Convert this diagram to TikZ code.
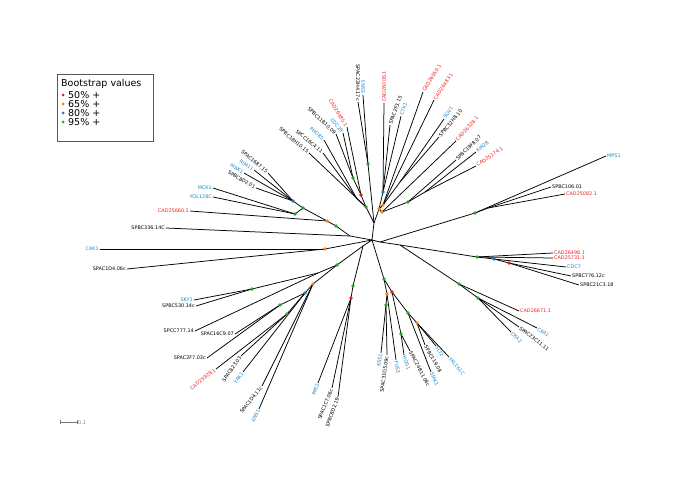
\documentclass[tikz,border=0pt]{standalone}
\usepackage{fontspec}
\setmainfont{DejaVu Sans}
\definecolor{bsred}{RGB}{228,26,28}
\definecolor{bsorange}{RGB}{255,127,14}
\definecolor{bsblue}{RGB}{31,119,180}
\definecolor{bsgreen}{RGB}{44,160,44}
\definecolor{scblue}{RGB}{30,136,204}
\definecolor{cared}{RGB}{238,34,34}

\begin{document}
\begin{tikzpicture}[x=1pt, y=-1pt,
  br/.style={line width=0.75pt},
  tiplab/.style={font=\fontsize{4.9}{5.5}\selectfont, inner sep=1pt},
  lr/.style={tiplab, anchor=west},
  ll/.style={tiplab, anchor=east},
  sc/.style={text=scblue},
  ca/.style={text=cared}]
\useasboundingbox (0,0) rectangle (685,484);

% Inner nodes
\coordinate (c0) at (372,240);
\coordinate (t0) at (374,223);
\coordinate (tl) at (366,207);
\coordinate (np) at (357,199);
\coordinate (r1) at (361,195);
\coordinate (g4) at (353,178);
\coordinate (g6) at (368,164);
\coordinate (o1) at (379,209);
\coordinate (b2) at (383,192);
\coordinate (o2) at (383,205);
\coordinate (n5) at (400,182);
\coordinate (o3) at (382,212);
\coordinate (g5) at (408,202);
\coordinate (n6) at (425,192);
\coordinate (a1) at (350,236);
\coordinate (a2) at (336,226);
\coordinate (a3) at (327,221);
\coordinate (g2) at (303,208);
\coordinate (b1) at (293,201);
\coordinate (g1) at (295,214);
\coordinate (oc) at (325,249);
\coordinate (d0) at (363,246);
\coordinate (gbl) at (337,265);
\coordinate (n1) at (318,273);
\coordinate (gsk) at (252,289);
\coordinate (o4) at (313,284);
\coordinate (bb) at (305,293);
\coordinate (g7) at (280,305);
\coordinate (g8) at (287,314);
\coordinate (gs) at (353,286);
\coordinate (r2) at (351,298);
\coordinate (gk) at (384,279);
\coordinate (o5) at (387,294);
\coordinate (g9) at (386,305);
\coordinate (r3) at (392,292);
\coordinate (g10) at (401,334);
\coordinate (g11) at (408,313);
\coordinate (o6) at (417,323);
\coordinate (e0) at (380,242);
\coordinate (e1) at (400,245);
\coordinate (gm) at (475,213);
\coordinate (n3) at (488,208);
\coordinate (gc) at (477,257);
\coordinate (bc) at (494,259);
\coordinate (rc) at (509,263);
\coordinate (gck) at (459,284);
\coordinate (gck2) at (478,298);

% Inner branches
\draw[br] (c0) -- (t0) -- (g6);
\draw[br] (t0) -- (tl) -- (r1) -- (g4);
\draw[br] (tl) -- (np);
\draw[br] (t0) -- (o1) -- (b2);
\draw[br] (o1) -- (o2) -- (n5);
\draw[br] (o1) -- (o3) -- (g5) -- (n6);
\draw[br] (c0) -- (a1) -- (a2) -- (a3) -- (g2) -- (b1);
\draw[br] (g2) -- (g1);
\draw[br] (c0) -- (oc);
\draw[br] (c0) -- (d0) -- (gbl) -- (n1) -- (gsk);
\draw[br] (gbl) -- (o4) -- (bb) -- (g7);
\draw[br] (bb) -- (g8);
\draw[br] (d0) -- (gs) -- (r2);
\draw[br] (c0) -- (gk) -- (o5) -- (g9);
\draw[br] (gk) -- (r3) -- (g10);
\draw[br] (r3) -- (g11) -- (o6);
\draw[br] (c0) -- (e0) -- (gm) -- (n3);
\draw[br] (e0) -- (e1) -- (gc) -- (bc) -- (rc);
\draw[br] (e1) -- (gck) -- (gck2);

% Top cluster
\node[ll, rotate=-90] (SPAC23H4) at (358,102) {SPAC23H4.17c};
\node[lr, rotate=90, sc] (SSN3) at (363,95) {SSN3};
\node[lr, rotate=90, ca] (CAD26006) at (384,103) {CAD26006.1};
\node[lr, rotate=70] (SPAC2F3) at (390,125) {SPAC2F3.15};
\node[lr, rotate=70, sc] (CTK1) at (401,116) {CTK1};
\node[lr, rotate=58, ca] (CAD26050) at (423,92) {CAD26050.1};
\node[lr, rotate=56, ca] (CAD26483) at (434,100) {CAD26483.1};
\node[lr, rotate=58, sc] (SGV1) at (444,119) {SGV1};
\node[lr, rotate=50] (SPBC32H8) at (439,137) {SPBC32H8.10};
\node[lr, rotate=48, ca] (CAD26328) at (456,141) {CAD26328.1};
\node[lr, rotate=44] (SPBC19F8) at (456,160) {SPBC19F8.07};
\node[lr, rotate=40, sc] (KIN28) at (476,152) {KIN28};
\node[lr, rotate=34, ca] (CAD25174) at (476,166) {CAD25174.1};
\draw[br] (g6) -- (SPAC23H4.east);
\draw[br] (g6) -- (SSN3.west);
\draw[br] (b2) -- (CAD26006.west);
\draw[br] (b2) -- (SPAC2F3.west);
\draw[br] (b2) -- (CTK1.west);
\draw[br] (o2) -- (CAD26050.west);
\draw[br] (o2) -- (CAD26483.west);
\draw[br] (n5) -- (SGV1.west);
\draw[br] (n5) -- (SPBC32H8.west);
\draw[br] (o3) -- (CAD26328.west);
\draw[br] (g5) -- (SPBC19F8.west);
\draw[br] (n6) -- (KIN28.west);
\draw[br] (n6) -- (CAD25174.west);

% Top left cluster
\node[ll, rotate=-40] (SPBC18H10) at (309,153) {SPBC18H10.15};
\node[ll, rotate=-40] (SPCC16C4) at (323,153) {SPCC16C4.11};
\node[ll, rotate=-42, sc] (PHO85) at (324,140) {PHO85};
\node[ll, rotate=-43] (SPBC11B10) at (336,134) {SPBC11B10.09};
\node[ll, rotate=-50, sc] (CDC28) at (343,133) {CDC28};
\node[ll, rotate=-58, ca] (CAD26485) at (347,127) {CAD26485.1};
\draw[br] (tl) -- (SPBC18H10.east);
\draw[br] (np) -- (SPCC16C4.east);
\draw[br] (np) -- (PHO85.east);
\draw[br] (g4) -- (SPBC11B10.east);
\draw[br] (g4) -- (CDC28.east);
\draw[br] (r1) -- (CAD26485.east);

% Left cluster
\node[ll, rotate=-40] (SPAC1687) at (268,173) {SPAC1687.15};
\node[ll, rotate=-32, sc] (RIM11) at (254,170) {RIM11};
\node[ll, rotate=-30, sc] (MRK1) at (244,173) {MRK1};
\node[ll, rotate=-30] (SPBC8D2a) at (256,188) {SPBC8D2.01};
\node[ll, sc] (MCK1) at (213,188) {MCK1};
\node[ll, sc] (YOL128C) at (213,197) {YOL128C};
\node[ll, ca] (CAD25660) at (190,211) {CAD25660.1};
\node[ll] (SPBC336) at (166,228) {SPBC336.14C};
\node[ll, sc] (CAK1) at (100,249) {CAK1};
\node[ll] (SPAC1D4a) at (127,269) {SPAC1D4.06c};
\draw[br] (b1) -- (SPAC1687.east);
\draw[br] (b1) -- (RIM11.east);
\draw[br] (b1) -- (MRK1.east);
\draw[br] (b1) -- (SPBC8D2a.east);
\draw[br] (g1) -- (MCK1.east);
\draw[br] (g1) -- (YOL128C.east);
\draw[br] (a3) -- (CAD25660.east);
\draw[br] (a1) -- (SPBC336.east);
\draw[br] (oc) -- (CAK1.east);
\draw[br] (oc) -- (SPAC1D4a.east);

% Bottom left cluster
\node[ll, sc] (SKY1) at (194,300) {SKY1};
\node[ll] (SPBC530) at (196,306) {SPBC530.14c};
\node[ll] (SPCC777) at (195,331) {SPCC777.14};
\node[ll] (SPAC16C9) at (235,334) {SPAC16C9.07};
\node[ll] (SPAC2F7) at (207,358) {SPAC2F7.03c};
\node[ll, rotate=38, ca] (CAD25928) at (216,369) {CAD25928.1};
\node[ll, rotate=55] (SPAC823) at (241,356) {SPAC823.03};
\node[ll, rotate=55, sc] (YAK1) at (243,372) {YAK1};
\node[ll, rotate=52] (SPAC1D4b) at (262,386) {SPAC1D4.11c};
\node[ll, rotate=65, sc] (KNS1) at (259,409) {KNS1};
\draw[br] (gsk) -- (SKY1.east);
\draw[br] (gsk) -- (SPBC530.east);
\draw[br] (n1) -- (SPCC777.east);
\draw[br] (g7) -- (SPAC16C9.east);
\draw[br] (g7) -- (SPAC2F7.east);
\draw[br] (g8) -- (CAD25928.east);
\draw[br] (g8) -- (SPAC823.east);
\draw[br] (bb) -- (YAK1.east);
\draw[br] (o4) -- (SPAC1D4b.east);
\draw[br] (o4) -- (KNS1.east);

% Bottom clusters
\node[ll, rotate=70, sc] (IME2) at (318,383) {IME2};
\node[ll, rotate=68] (SPAC1C7) at (332,388) {SPAC1C7.06c};
\node[ll, rotate=70] (SPBC8D2b) at (338,397) {SPBC8D2.19};
\node[ll, rotate=80, sc] (KSS1) at (381,353) {KSS1};
\node[ll, rotate=82] (SPAC31G5) at (387,355) {SPAC31G5.09c};
\node[lr, rotate=-80, sc] (FUS3) at (396,360) {FUS3};
\node[lr, rotate=-72, sc] (HOG1) at (404,355) {HOG1};
\node[lr, rotate=-62] (SPAC24B11) at (410,351) {SPAC24B11.06c};
\node[lr, rotate=-65, sc] (SMK1) at (431,372) {SMK1};
\node[lr, rotate=-60] (SPBC119) at (425,345) {SPBC119.08};
\node[lr, rotate=-58, sc] (SLT2) at (436,346) {SLT2};
\node[lr, rotate=-50, sc] (YKL161C) at (449,357) {YKL161C};
\draw[br] (r2) -- (IME2.east);
\draw[br] (r2) -- (SPAC1C7.east);
\draw[br] (r2) -- (SPBC8D2b.east);
\draw[br] (g9) -- (KSS1.east);
\draw[br] (g9) -- (SPAC31G5.east);
\draw[br] (o5) -- (FUS3.west);
\draw[br] (g10) -- (HOG1.west);
\draw[br] (g10) -- (SPAC24B11.west);
\draw[br] (g11) -- (SMK1.west);
\draw[br] (o6) -- (SPBC119.west);
\draw[br] (o6) -- (SLT2.west);
\draw[br] (o6) -- (YKL161C.west);

% Right clusters
\node[lr, sc] (MPS1) at (606,156) {MPS1};
\node[lr] (SPBC106) at (551,187) {SPBC106.01};
\node[lr, ca] (CAD25082) at (565,194) {CAD25082.1};
\node[lr, ca] (CAD26498) at (553,253) {CAD26498.1};
\node[lr, ca] (CAD25731) at (553,258) {CAD25731.1};
\node[lr, sc] (CDC7) at (566,267) {CDC7};
\node[lr] (SPBC776) at (571,276) {SPBC776.12c};
\node[lr] (SPBC21C3) at (579,285) {SPBC21C3.18};
\node[lr, ca] (CAD26671) at (519,311) {CAD26671.1};
\node[lr, rotate=-45, sc] (CKA2) at (511,332) {CKA2};
\node[lr, rotate=-38] (SPAC23C11) at (519,327) {SPAC23C11.11};
\node[lr, rotate=-35, sc] (CKA1) at (537,328) {CKA1};
\draw[br] (gm) -- (MPS1.west);
\draw[br] (n3) -- (SPBC106.west);
\draw[br] (n3) -- (CAD25082.west);
\draw[br] (gc) -- (CAD26498.west);
\draw[br] (gc) -- (CAD25731.west);
\draw[br] (bc) -- (CDC7.west);
\draw[br] (rc) -- (SPBC776.west);
\draw[br] (rc) -- (SPBC21C3.west);
\draw[br] (gck) -- (CAD26671.west);
\draw[br] (gck2) -- (CKA2.west);
\draw[br] (gck2) -- (SPAC23C11.west);
\draw[br] (gck2) -- (CKA1.west);

% Bootstrap dots
\foreach \n in {r1,r2,r3,rc} \fill[bsred] (\n) circle (1.8pt);
\foreach \n in {a3,oc,o1,o2,o3,o4,o5,o6} \fill[bsorange] (\n) circle (1.8pt);
\foreach \n in {b1,b2,bb,bc} \fill[bsblue] (\n) circle (1.8pt);
\foreach \n in {tl,g4,g6,g5,a2,g1,g2,gbl,gsk,g7,g8,gs,gk,g9,g10,g11,gm,gc,gck,gck2}
  \fill[bsgreen] (\n) circle (1.8pt);

% Legend
\draw[line width=0.8pt, black!65] (57,74) rectangle (153,141);
\node[anchor=west, inner sep=0, font=\fontsize{9.5}{11}\selectfont] (legtitle) at (61,84) {Bootstrap values};
\foreach \c/\t/\y in {bsred/50/95, bsorange/65/104, bsblue/80/113, bsgreen/95/122} {
  \fill[\c] (63,\y) circle (1.5pt);
  \node[anchor=west, inner sep=0, font=\fontsize{9.5}{11}\selectfont] (leg\t) at (68,\y) {\t\% +};
}

% Scale bar
\draw[black!55, line width=0.6pt] (60,422) -- (77,422);
\draw[black!55, line width=0.6pt] (60,420) -- (60,424) (77,420) -- (77,424);
\node[anchor=west, inner sep=1pt, text=black!50, font=\fontsize{5}{6}\selectfont] (scale) at (77,423) {0.1};
\end{tikzpicture}
\end{document}
